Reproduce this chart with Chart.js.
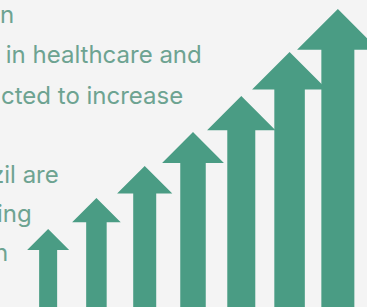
<!DOCTYPE html>
<html>
<head>
<meta charset="utf-8">
<script src="https://cdn.jsdelivr.net/npm/chart.js@4"></script>
<style>
  html, body { margin: 0; padding: 0; background: #f4f4f4; }
  #wrap { position: relative; width: 367px; height: 307px; overflow: hidden; background: #f4f4f4; }
  #chart { position: absolute; left: 0; top: 0; }
  .line { position: absolute; font-family: Inter, sans-serif; font-size: 24px; color: #6da391; white-space: nowrap; line-height: 1; }
</style>
</head>
<body>
<div id="wrap">
  <div class="line" style="left:0px; top:3px;">n</div>
  <div class="line" style="left:-1px; top:43px;">&nbsp;in healthcare and</div>
  <div class="line" style="left:1px; top:84px;">cted to increase</div>
  <div class="line" style="left:-9px; top:163px;">zil are</div>
  <div class="line" style="left:-3px; top:202px;">ing</div>
  <div class="line" style="left:-6px; top:241px;">n</div>
  <canvas id="chart" width="367" height="307"></canvas>
</div>
<script>
// arrow tops, bottom of the picture = 0
const steps = ['1', '2', '3', '4', '5', '6', '7'];
const growth = [78, 109, 141, 175, 211, 255, 298];
const arrowColor = '#4a9c84';

// draws each bar as an arrow: shaft + triangular head
const arrowPlugin = {
    id: 'arrows',
    afterDatasetsDraw(chart) {
        const ctx = chart.ctx;
        const meta = chart.getDatasetMeta(0);
        ctx.save();
        ctx.fillStyle = arrowColor;
        meta.data.forEach(function(bar, i) {
            const shaft = 18 + 2.5 * i;
            const head = 21 + 3.3 * i;
            const x = bar.x, top = bar.y, base = bar.base;
            ctx.beginPath();
            ctx.moveTo(x, top);
            ctx.lineTo(x + head, top + head);
            ctx.lineTo(x + shaft / 2, top + head);
            ctx.lineTo(x + shaft / 2, base);
            ctx.lineTo(x - shaft / 2, base);
            ctx.lineTo(x - shaft / 2, top + head);
            ctx.lineTo(x - head, top + head);
            ctx.closePath();
            ctx.fill();
        });
        ctx.restore();
    }
};

const chart = new Chart(document.getElementById('chart'), {
    type: 'bar',
    data: {
        labels: steps,
        datasets: [{
            data: growth,
            backgroundColor: 'rgba(0,0,0,0)',
            borderWidth: 0
        }]
    },
    options: {
        responsive: false,
        animation: false,
        layout: { padding: { left: 24, right: 5, top: 0, bottom: 0 } },
        plugins: { legend: { display: false }, tooltip: { enabled: false } },
        scales: {
            x: { display: false },
            y: { display: false, min: 0, max: 307 }
        }
    },
    plugins: [arrowPlugin]
});
</script>
</body>
</html>
